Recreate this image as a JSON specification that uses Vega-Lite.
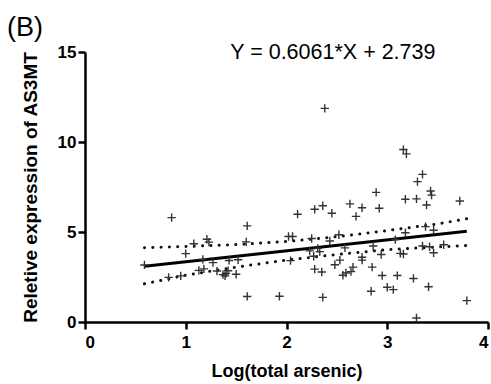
{
  "$schema": "https://vega.github.io/schema/vega-lite/v6.json",
  "width": 403,
  "height": 270,
  "autosize": {"type": "none"},
  "padding": {"left": 85, "top": 52, "right": 3, "bottom": 62},
  "background": "white",
  "title": {"text": "(B)", "anchor": "start", "frame": "group", "dx": -78, "offset": 0, "fontSize": 27, "fontWeight": "normal", "font": "Liberation Sans", "color": "#000"},
  "config": {"view": {"stroke": null}, "font": "Liberation Sans"},
  "datasets": {
    "pts": [
      {"x":0.59,"y":3.17},{"x":0.86,"y":5.8},{"x":0.83,"y":2.48},{"x":0.95,"y":2.56},{"x":1.0,"y":3.8},
      {"x":1.08,"y":4.35},{"x":1.21,"y":4.6},{"x":1.23,"y":4.44},{"x":1.17,"y":3.48},{"x":1.13,"y":2.87},
      {"x":1.18,"y":2.95},{"x":1.27,"y":3.3},{"x":1.31,"y":2.83},{"x":1.37,"y":2.63},{"x":1.39,"y":2.56},
      {"x":1.40,"y":2.7},{"x":1.42,"y":2.85},{"x":1.43,"y":3.42},{"x":1.50,"y":2.65},{"x":1.52,"y":3.46},
      {"x":1.61,"y":5.34},{"x":1.60,"y":4.45},{"x":1.61,"y":1.42},{"x":1.93,"y":1.43},{"x":2.02,"y":4.75},
      {"x":2.06,"y":4.75},{"x":2.04,"y":3.41},{"x":2.11,"y":5.99},{"x":2.25,"y":4.64},{"x":2.23,"y":3.95},
      {"x":2.31,"y":4.09},{"x":2.33,"y":3.91},{"x":2.27,"y":3.65},{"x":2.28,"y":6.26},{"x":2.36,"y":6.46},
      {"x":2.45,"y":6.04},{"x":2.28,"y":2.94},{"x":2.35,"y":2.78},{"x":2.36,"y":1.37},{"x":2.43,"y":4.5},
      {"x":2.52,"y":4.85},{"x":2.48,"y":3.18},{"x":2.53,"y":3.44},{"x":2.56,"y":2.6},{"x":2.59,"y":2.72},
      {"x":2.64,"y":2.8},{"x":2.66,"y":3.05},{"x":2.58,"y":4.12},{"x":2.63,"y":6.56},{"x":2.75,"y":6.35},
      {"x":2.69,"y":5.87},{"x":2.75,"y":3.6},{"x":2.75,"y":3.44},{"x":2.85,"y":3.05},{"x":2.86,"y":4.22},
      {"x":2.89,"y":7.2},{"x":2.92,"y":6.32},{"x":2.94,"y":3.75},{"x":2.95,"y":2.58},{"x":2.84,"y":1.71},
      {"x":3.0,"y":1.93},{"x":3.06,"y":1.8},{"x":3.10,"y":2.58},{"x":3.08,"y":4.58},{"x":3.13,"y":3.81},
      {"x":3.16,"y":3.78},{"x":3.18,"y":4.96},{"x":3.18,"y":6.82},{"x":3.16,"y":9.58},{"x":3.19,"y":9.34},
      {"x":3.26,"y":2.42},{"x":3.29,"y":0.22},{"x":3.29,"y":6.84},{"x":3.30,"y":7.8},{"x":3.35,"y":8.2},
      {"x":3.39,"y":6.5},{"x":3.43,"y":7.28},{"x":3.44,"y":7.05},{"x":3.38,"y":5.3},{"x":3.46,"y":5.1},
      {"x":3.35,"y":4.22},{"x":3.42,"y":4.18},{"x":3.46,"y":3.85},{"x":3.56,"y":4.29},{"x":3.41,"y":1.96},
      {"x":3.72,"y":6.72},{"x":3.79,"y":1.19},{"x":2.38,"y":11.87}
    ],
    "fit": [{"x":0.59,"y":3.10},{"x":3.79,"y":5.04}],
    "band": [
      {"x":0.59,"y":4.13,"b":"upper"},{"x":1.0,"y":4.2,"b":"upper"},{"x":1.5,"y":4.3,"b":"upper"},{"x":2.0,"y":4.47,"b":"upper"},
      {"x":2.5,"y":4.74,"b":"upper"},{"x":3.0,"y":5.08,"b":"upper"},{"x":3.5,"y":5.45,"b":"upper"},{"x":3.79,"y":5.74,"b":"upper"},
      {"x":0.59,"y":2.12,"b":"lower"},{"x":1.0,"y":2.6,"b":"lower"},{"x":1.5,"y":3.05,"b":"lower"},{"x":2.0,"y":3.44,"b":"lower"},
      {"x":2.5,"y":3.75,"b":"lower"},{"x":3.0,"y":4.02,"b":"lower"},{"x":3.5,"y":4.17,"b":"lower"},{"x":3.79,"y":4.25,"b":"lower"}
    ],
    "eq": [{"x":2.46,"y":14.95,"label":"Y = 0.6061*X + 2.739"}]
  },
  "encoding": {
    "x": {"field": "x", "type": "quantitative", "scale": {"domain": [0, 4], "nice": false, "zero": false},
      "axis": {"values": [0,1,2,3,4], "title": "Log(total arsenic)", "grid": false, "domainColor": "#000", "domainWidth": 2.5, "tickColor": "#000", "tickWidth": 2.5, "tickSize": 7,
        "labelFont": "Liberation Sans", "labelFontSize": 17, "labelFontWeight": "bold", "labelColor": "#000", "labelPadding": 5,
        "titleFont": "Liberation Sans", "titleFontSize": 18, "titleFontWeight": "bold", "titleColor": "#000", "titlePadding": 12}},
    "y": {"field": "y", "type": "quantitative", "scale": {"domain": [0, 15], "nice": false},
      "axis": {"values": [0,5,10,15], "title": "Reletive expression of AS3MT", "grid": false, "domainColor": "#000", "domainWidth": 2.5, "tickColor": "#000", "tickWidth": 2.5, "tickSize": 7,
        "labelFont": "Liberation Sans", "labelFontSize": 17, "labelFontWeight": "bold", "labelColor": "#000", "labelPadding": 2,
        "titleFont": "Liberation Sans", "titleFontSize": 19, "titleFontWeight": "bold", "titleColor": "#000", "titlePadding": 17}}
  },
  "layer": [
    {"data": {"name": "band"}, "mark": {"type": "line", "stroke": "#111", "strokeWidth": 3, "strokeDash": [0.1, 8.2], "strokeCap": "round"},
      "encoding": {"detail": {"field": "b"}}},
    {"data": {"name": "fit"}, "mark": {"type": "line", "stroke": "#000", "strokeWidth": 3}},
    {"data": {"name": "pts"}, "mark": {"type": "point", "shape": "M-1,0L1,0M0,-1L0,1", "size": 70, "stroke": "#333", "strokeWidth": 1.4, "filled": false, "opacity": 1}},
    {"data": {"name": "eq"}, "mark": {"type": "text", "fontSize": 21.5, "font": "Liberation Sans", "color": "#000", "align": "center", "baseline": "middle"},
      "encoding": {"text": {"field": "label"}}}
  ]
}
